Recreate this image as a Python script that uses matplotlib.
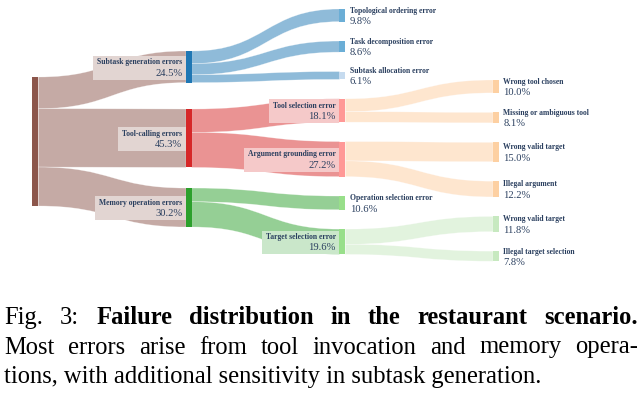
import matplotlib
matplotlib.use("Agg")
import matplotlib.pyplot as plt
from matplotlib.path import Path
from matplotlib.patches import PathPatch, Rectangle
from matplotlib.colors import to_rgb

# ---------------- data ----------------
node_names = ["", "Subtask generation errors", "Tool-calling errors", "Memory operation errors",
              "Topological ordering error", "Task decomposition error", "Subtask allocation error",
              "Tool selection error", "Argument grounding error", "Operation selection error",
              "Target selection error",
              "Wrong tool chosen", "Missing or ambiguous tool", "Wrong valid target",
              "Illegal argument", "Wrong valid target", "Illegal target selection"]
node_values = [100.0, 24.5, 45.3, 30.2, 9.8, 8.6, 6.1, 18.1, 27.2, 10.6, 19.6,
               10.0, 8.1, 15.0, 12.2, 11.8, 7.8]
node_level = [0, 1, 1, 1, 2, 2, 2, 2, 2, 2, 2, 3, 3, 3, 3, 3, 3]
link_source = [0, 0, 0, 1, 1, 1, 2, 2, 3, 3, 7, 7, 8, 8, 10, 10]
link_target = [1, 2, 3, 4, 5, 6, 7, 8, 9, 10, 11, 12, 13, 14, 15, 16]
link_values = [24.5, 45.3, 30.2, 9.8, 8.6, 6.1, 18.1, 27.2, 10.6, 19.6,
               10.0, 8.1, 15.0, 12.2, 11.8, 7.8]

caption_line1 = [("Fig.", "normal"), ("3:", "normal"), ("Failure", "bold"), ("distribution", "bold"),
                 ("in", "bold"), ("the", "bold"), ("restaurant", "bold"), ("scenario.", "bold")]
caption_line2 = "Most errors arise from tool invocation and memory opera-"
caption_line3 = "tions, with additional sensitivity in subtask generation."

# ---------------- styles ----------------
node_colors = ["#8c564b", "#1f77b4", "#d62728", "#2ca02c",
               "#6baed6", "#6baed6", "#c6dbef", "#ff9896", "#ff9896", "#98df8a", "#98df8a",
               "#fdd0a2", "#fdd0a2", "#fdd0a2", "#fdd0a2", "#c7e9c0", "#c7e9c0"]
link_colors = ["#c5aaa5"] * 3 + ["#8fbbd9"] * 3 + ["#ea9393"] * 2 + ["#95cf95"] * 2 + \
              ["#fee6cf"] * 4 + ["#e2f3de"] * 2
label_left = {1, 2, 3, 7, 8, 10}          # labels drawn left of node with a box
col_x = [32.5, 186.0, 339.5, 493.0]       # node left edges (px)
node_w = 5.8
col_top = [77.0, 51.0, 9.0, 80.0]         # first node top (px)
col_gaps = {0: [], 1: [26.4, 20.6], 2: [19.4] * 6, 3: [19.5] * 5}
S = 1.29                                  # px per percent
TXT = "#2a3f5f"
LABEL_FONT = "Liberation Serif"


def blend(c, a):
    r, g, b = to_rgb(c)
    return (1 - a + a * r, 1 - a + a * g, 1 - a + a * b)


fig = plt.figure(figsize=(6.44, 3.96), dpi=100)
ax = fig.add_axes([0, 0, 1, 1])
ax.set_xlim(0, 644)
ax.set_ylim(396, 0)
ax.axis("off")

# ---- node layout from values ----
n = len(node_values)
node_top = [0.0] * n
for lev in range(4):
    idx = [i for i in range(n) if node_level[i] == lev]
    y = col_top[lev]
    for k, i in enumerate(idx):
        node_top[i] = y
        y += node_values[i] * S
        if k < len(idx) - 1:
            y += col_gaps[lev][k]

# ---- links ----
src_off = [0.0] * n
tgt_off = [0.0] * n
for s, t, v, lc in zip(link_source, link_target, link_values, link_colors):
    h = v * S
    x0 = col_x[node_level[s]] + node_w
    x1 = col_x[node_level[t]]
    y0a = node_top[s] + src_off[s]; y0b = y0a + h
    y1a = node_top[t] + tgt_off[t]; y1b = y1a + h
    src_off[s] += h; tgt_off[t] += h
    xm = (x0 + x1) / 2
    verts = [(x0, y0a), (xm, y0a), (xm, y1a), (x1, y1a), (x1, y1b),
             (xm, y1b), (xm, y0b), (x0, y0b), (x0, y0a)]
    codes = [Path.MOVETO, Path.CURVE4, Path.CURVE4, Path.CURVE4, Path.LINETO,
             Path.CURVE4, Path.CURVE4, Path.CURVE4, Path.CLOSEPOLY]
    ax.add_patch(PathPatch(Path(verts, codes), facecolor=lc,
                           edgecolor=(1, 1, 1, 0.45), lw=0.4, zorder=1))

# ---- nodes ----
for i in range(n):
    ax.add_patch(Rectangle((col_x[node_level[i]], node_top[i]), node_w, node_values[i] * S,
                           facecolor=node_colors[i], edgecolor="none", zorder=3))

# ---- labels ----
parent = {t: s for s, t in zip(link_source, link_target)}
label_objs = []
for i in range(n):
    if not node_names[i]:
        continue
    cy = node_top[i] + node_values[i] * S / 2 + 0.8
    if i in label_left:
        x = col_x[node_level[i]] - 3.8
        ha = "right"
    else:
        x = col_x[node_level[i]] + node_w + 4.5
        ha = "left"
    t1 = ax.text(x, cy - 5.4, node_names[i], ha=ha, va="center", fontsize=5.5,
                 family=LABEL_FONT, fontweight="bold", color=TXT, zorder=6)
    t2 = ax.text(x, cy + 5.4, f"{node_values[i]:.1f}%", ha=ha, va="center", fontsize=7.6,
                 family=LABEL_FONT, color=TXT, zorder=6)
    label_objs.append((i, t1, t2))

fig.canvas.draw()
r = fig.canvas.get_renderer()
inv = ax.transData.inverted()
for i, t1, t2 in label_objs:
    if i not in label_left:
        continue
    b1 = t1.get_window_extent(r); b2 = t2.get_window_extent(r)
    (lx1, ty1), (rx1, by1) = inv.transform((b1.x0, b1.y1)), inv.transform((b1.x1, b1.y0))
    (lx2, ty2), (rx2, by2) = inv.transform((b2.x0, b2.y1)), inv.transform((b2.x1, b2.y0))
    left = min(lx1, lx2) - 3.8
    top = min(ty1, ty2) - 2.5
    bot = max(by1, by2) + 2.0
    right = col_x[node_level[i]]
    ax.add_patch(Rectangle((left, top), right - left, bot - top,
                           facecolor=blend(node_colors[parent[i]], 0.25),
                           edgecolor="none", zorder=5))

# ---- caption (justified) ----
CAP_FONT = "Liberation Serif"
CAP_SIZE = 17.7
XL, XR = 4.5, 638.0


def justify(words, y):
    objs = [ax.text(0, y, w, fontsize=CAP_SIZE, family=CAP_FONT, fontweight=wt,
                    ha="left", va="baseline", color="black") for w, wt in words]
    fig.canvas.draw()
    widths = [o.get_window_extent(r).width for o in objs]
    gap = (XR - XL - sum(widths)) / (len(objs) - 1)
    x = XL
    for o, w in zip(objs, widths):
        o.set_x(x)
        x += w + gap


justify(caption_line1, 324.0)
justify([(w, "normal") for w in caption_line2.split()], 353.5)
ax.text(XL, 383.0, caption_line3, fontsize=CAP_SIZE, family=CAP_FONT, ha="left",
        va="baseline", color="black")

fig.savefig("out.png", dpi=100)
